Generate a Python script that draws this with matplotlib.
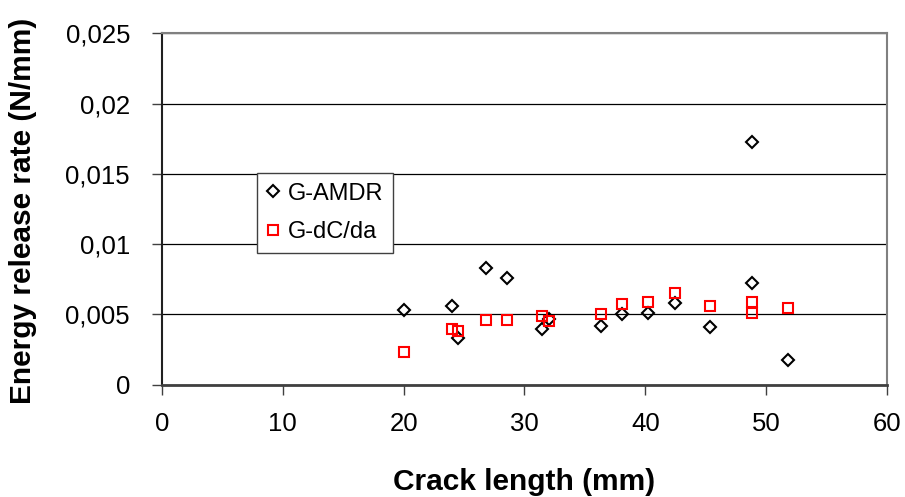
import matplotlib.pyplot as plt

plt.rcParams['font.family'] = ['Liberation Sans', 'DejaVu Sans']

# crack length (mm) and energy release rate (N/mm) from both methods
crack = [20.05, 24.0, 24.47, 26.84, 28.58, 31.42, 32.05, 36.3, 38.04,
         40.25, 42.48, 45.32, 48.8, 48.8, 51.78]
g_amdr = [0.0053, 0.00558, 0.00332, 0.00828, 0.00759, 0.00394, 0.00465,
          0.00418, 0.00503, 0.00512, 0.00584, 0.00408, 0.01725, 0.00722,
          0.00178]
g_dcda = [0.00233, 0.00396, 0.00382, 0.00463, 0.00463, 0.00491, 0.00451,
          0.00505, 0.00573, 0.00586, 0.00655, 0.00558, 0.00589, 0.00512,
          0.00544]

xticks = [0, 10, 20, 30, 40, 50, 60]
yticks = [0, 0.005, 0.01, 0.015, 0.02, 0.025]
ytick_labels = ['0', '0,005', '0,01', '0,015', '0,02', '0,025']

fig = plt.figure(figsize=(9.05, 4.97), dpi=100)
ax = fig.add_axes([0.179, 0.226, 0.801, 0.707])

ax.plot(crack, g_amdr, linestyle='none', marker='D', ms=6, mew=1.5,
        mfc='none', mec='black', label='G-AMDR', zorder=3)
ax.plot(crack, g_dcda, linestyle='none', marker='s', ms=7.5, mew=1.5,
        mfc='none', mec='#ff0000', label='G-dC/da', zorder=4)

ax.set_xlim(0, 60)
ax.set_ylim(0, 0.025)
ax.set_xticks(xticks)
ax.set_yticks(yticks)
ax.set_yticklabels(ytick_labels)

ax.yaxis.grid(True, color='black', lw=0.9)
ax.set_axisbelow(True)

ax.spines['left'].set_color('#202020')
ax.spines['left'].set_linewidth(1.5)
ax.spines['bottom'].set_color('#404040')
ax.spines['bottom'].set_linewidth(2)
for side in ['top', 'right']:
    ax.spines[side].set_color('#808080')
    ax.spines[side].set_linewidth(1.5)

ax.tick_params(axis='both', direction='out', length=7, width=1,
               color='#404040', labelsize=18.5)
ax.tick_params(axis='y', pad=16)
ax.tick_params(axis='x', pad=13)

fig.text(0.5 * (0.179 + 0.980), 0.014, 'Crack length (mm)', ha='center',
         va='baseline', fontsize=21.5, fontweight='bold')
fig.text(0.0258, 0.575, 'Energy release rate (N/mm)', rotation=90,
         ha='center', va='center', fontsize=21.5, fontweight='bold')

leg = ax.legend(loc='upper left', bbox_to_anchor=(0.131, 0.602),
                borderaxespad=0, fancybox=False, edgecolor='#404040',
                fontsize=17, handlelength=0.6, handletextpad=0.3,
                borderpad=0.4, labelspacing=0.7, framealpha=1)
leg.get_frame().set_linewidth(1.0)

fig.savefig('out.png', dpi=100)
